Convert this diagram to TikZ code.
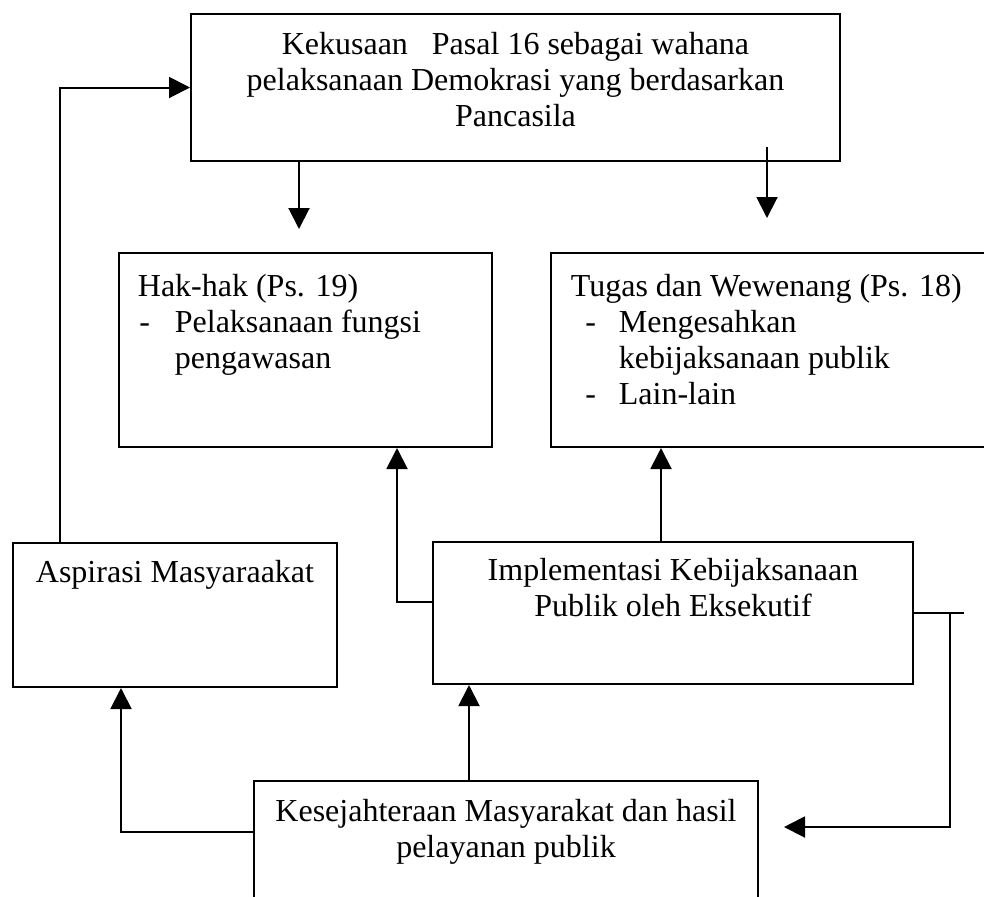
\documentclass[tikz,border=0pt]{standalone}
\usepackage{fontspec}
\setmainfont{Liberation Serif}
\usepackage{tikz}
\usetikzlibrary{positioning,arrows.meta}

\newcommand{\butir}[3]{\makebox[#2][l]{\hspace{#1}-}#3}

\begin{document}
\begin{tikzpicture}[x=0.5pt, y=-0.5pt,
    box/.style={draw, line width=1pt, inner sep=0pt},
    txt/.style={font=\fontsize{16pt}{18pt}\selectfont, inner sep=0pt},
    arr/.style={line width=1pt, -{Triangle[length=10.5pt, width=10.5pt]}}]
  \useasboundingbox (0,0) rectangle (984,896);

  % boxes
  \node[box, minimum width=324.5pt, minimum height=73.5pt] (kuasa) at (515.5,87.5) {};
  \node[box, minimum width=186.5pt, minimum height=97pt] (hak) at (305.5,350) {};
  \node[box, minimum width=229.5pt, minimum height=97pt] (tugas) at (780.5,350) {};
  \node[box, minimum width=162pt, minimum height=72pt] (asp) at (175,615) {};
  \node[box, minimum width=240pt, minimum height=71pt] (impl) at (673,613) {};
  \node[box, minimum width=252pt, minimum height=69.5pt] (sejah) at (506,850.5) {};

  % texts
  \node[txt, align=center, below=9.5pt of kuasa.north] (kuasa-t)
    {Kekusaan\ \ \ Pasal 16 sebagai wahana\\pelaksanaan Demokrasi yang berdasarkan\\Pancasila};
  \node[txt, align=left, below right=11pt and 9.75pt of hak.north west] (hak-t)
    {Hak-hak (Ps. 19)\\
     \butir{0.7pt}{18.5pt}{Pelaksanaan fungsi}\\
     \makebox[18.5pt]{}pengawasan};
  \node[txt, align=left, below right=11pt and 10.25pt of tugas.north west] (tugas-t)
    {Tugas dan Wewenang (Ps. 18)\\
     \butir{7.25pt}{24pt}{Mengesahkan}\\
     \makebox[24pt]{}kebijaksanaan publik\\
     \butir{7.25pt}{24pt}{Lain-lain}};
  \node[txt, below=9pt of asp.north] (asp-t) {Aspirasi Masyaraakat};
  \node[txt, align=center, below=8.5pt of impl.north] (impl-t)
    {Implementasi Kebijaksanaan\\Publik oleh Eksekutif};
  \node[txt, align=center, below=9.5pt of sejah.north] (sejah-t)
    {Kesejahteraan Masyarakat dan hasil\\pelayanan publik};

  % connectors
  \coordinate (pA) at (299,229);
  \coordinate (pB) at (767,218);
  \coordinate (pC) at (60,86);
  \coordinate (pD) at (397,602);
  \coordinate (pE) at (661,0);
  \coordinate (pF) at (950,827);
  \coordinate (pG) at (121,832);
  \coordinate (pH) at (469,0);

  \path[arr]
  (kuasa.south -| pA) edge (pA)
  (kuasa.south -| pB) edge[shorten <=-7.5pt] (pB)
  (impl.north -| pE) edge (tugas.south -| pE)
  (sejah.north -| pH) edge (impl.south -| pH)
  ;
  \draw[arr] (asp.north -| pC) |- (kuasa.west);
  \draw[arr] (impl.west |- pD) -| (hak.south -| pD);
  \draw[line width=1pt] (impl.east) -- +(25pt,0);
  \draw[arr, shorten >=12.5pt] (impl.east -| pF) -- (pF) -- (sejah.east |- pF);
  \draw[arr] (sejah.west |- pG) -| (asp.south -| pG);
\end{tikzpicture}
\end{document}
